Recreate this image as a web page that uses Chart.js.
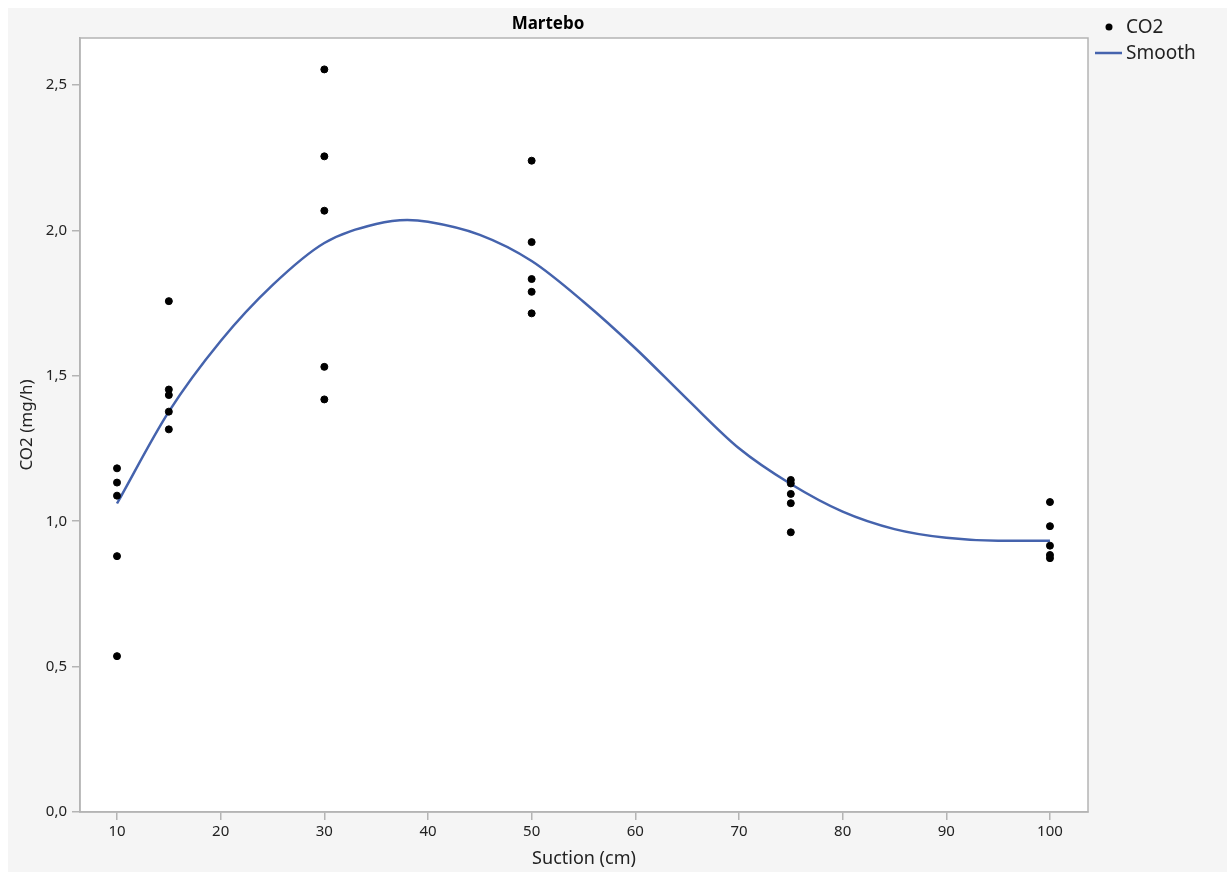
<!DOCTYPE html>
<html>
<head>
<meta charset="utf-8">
<script src="https://cdn.jsdelivr.net/npm/chart.js@4.4.1/dist/chart.umd.min.js"></script>
<style>
  body { margin: 0; background: #fff; }
  canvas { display: block; }
</style>
</head>
<body>
<canvas id="myChart" width="1227" height="872"></canvas>
<script>
// Datos
const suction = [10, 10, 10, 10, 10,
                 15, 15, 15, 15, 15,
                 30, 30, 30, 30, 30,
                 50, 50, 50, 50, 50,
                 75, 75, 75, 75, 75,
                 100, 100, 100, 100, 100];
const co2 = [1.182, 1.133, 1.088, 0.880, 0.536,
             1.757, 1.453, 1.434, 1.377, 1.316,
             2.554, 2.255, 2.068, 1.531, 1.419,
             2.240, 1.960, 1.833, 1.789, 1.715,
             1.142, 1.130, 1.094, 1.062, 0.962,
             1.066, 0.983, 0.916, 0.884, 0.873];

// Curva suavizada (leída sobre la línea azul)
const smoothX = [10, 15, 20, 25, 30, 35, 38, 40, 45, 50, 55, 60, 65, 70, 75, 80, 85, 90, 95, 100];
const smoothY = [1.061, 1.377, 1.620, 1.812, 1.957, 2.022, 2.036, 2.030, 1.985, 1.895, 1.755, 1.595,
                 1.420, 1.251, 1.128, 1.033, 0.973, 0.943, 0.933, 0.933];

const xTicks = [10, 20, 30, 40, 50, 60, 70, 80, 90, 100];
const yTicks = [0, 0.5, 1.0, 1.5, 2.0, 2.5];

const FONT = '"Noto Sans", "Open Sans", sans-serif';
const TEXT = '#222';
const AXIS = '#b4b4b4';

// Fondo gris, área blanca, marco, título y leyenda
const panelPlugin = {
  id: 'panel',
  beforeDraw(chart) {
    const { ctx, chartArea: a } = chart;
    ctx.save();
    ctx.fillStyle = '#fff';
    ctx.fillRect(0, 0, chart.width, chart.height);
    ctx.fillStyle = '#f5f5f5';
    ctx.fillRect(8, 8, chart.width - 8, chart.height - 8);
    ctx.fillStyle = '#fff';
    ctx.fillRect(a.left, a.top, a.right - a.left, a.bottom - a.top);
    ctx.restore();
  },
  afterDraw(chart) {
    const { ctx, chartArea: a } = chart;
    ctx.save();
    ctx.strokeStyle = AXIS;
    ctx.lineWidth = 1.5;
    ctx.strokeRect(a.left, a.top, a.right - a.left, a.bottom - a.top);

    // Título
    ctx.fillStyle = '#000';
    ctx.font = 'bold 17px ' + FONT;
    ctx.textAlign = 'center';
    ctx.textBaseline = 'middle';
    ctx.fillText('Martebo', (8 + a.right) / 2, 24);

    // Leyenda
    ctx.font = '19px ' + FONT;
    ctx.textAlign = 'left';
    ctx.beginPath();
    ctx.arc(1109, 27, 3.5, 0, Math.PI * 2);
    ctx.fillStyle = '#000';
    ctx.fill();
    ctx.fillStyle = TEXT;
    ctx.fillText('CO2', 1126, 28);
    ctx.strokeStyle = '#4563ad';
    ctx.lineWidth = 2.5;
    ctx.beginPath();
    ctx.moveTo(1095, 53);
    ctx.lineTo(1122, 53);
    ctx.stroke();
    ctx.fillText('Smooth', 1126, 54);
    ctx.restore();
  }
};

const ctx = document.getElementById('myChart').getContext('2d');
const myChart = new Chart(ctx, {
  type: 'scatter',
  data: {
    datasets: [
      {
        label: 'CO2',
        data: suction.map((x, i) => ({ x: x, y: co2[i] })),
        backgroundColor: '#000',
        borderColor: '#000',
        pointRadius: 3.5,
        order: 1
      },
      {
        label: 'Smooth',
        type: 'line',
        data: smoothX.map((x, i) => ({ x: x, y: smoothY[i] })),
        borderColor: '#4563ad',
        borderWidth: 2.5,
        pointRadius: 0,
        fill: false,
        cubicInterpolationMode: 'monotone',
        order: 2
      }
    ]
  },
  options: {
    responsive: false,
    animation: false,
    layout: { padding: { left: 8, top: 38, right: 139, bottom: 0 } },
    plugins: {
      legend: { display: false },
      tooltip: { enabled: false },
      title: { display: false }
    },
    scales: {
      x: {
        type: 'linear',
        min: 6.43,
        max: 103.67,
        afterFit: s => { s.height = 60; },
        afterBuildTicks: s => { s.ticks = xTicks.map(v => ({ value: v })); },
        grid: { drawOnChartArea: false, drawTicks: true, tickLength: 8, color: AXIS, lineWidth: 1.5 },
        border: { color: AXIS, width: 1.5 },
        ticks: { color: TEXT, font: { family: FONT, size: 15 }, padding: 3, maxRotation: 0 },
        title: { display: true, text: 'Suction (cm)', color: TEXT, font: { family: FONT, size: 18 }, padding: { top: 0, bottom: 2 } }
      },
      y: {
        type: 'linear',
        min: 0,
        max: 2.662,
        afterFit: s => { s.width = 72; },
        afterBuildTicks: s => { s.ticks = yTicks.map(v => ({ value: v })); },
        grid: { drawOnChartArea: false, drawTicks: true, tickLength: 8, color: AXIS, lineWidth: 1.5 },
        border: { color: AXIS, width: 1.5 },
        ticks: { color: TEXT, font: { family: FONT, size: 15 }, padding: 5,
                 callback: v => v.toFixed(1).replace('.', ',') },
        title: { display: true, text: 'CO2 (mg/h)', color: TEXT, font: { family: FONT, size: 17 }, padding: { top: 9, bottom: 0 } }
      }
    }
  },
  plugins: [panelPlugin]
});
</script>
</body>
</html>
